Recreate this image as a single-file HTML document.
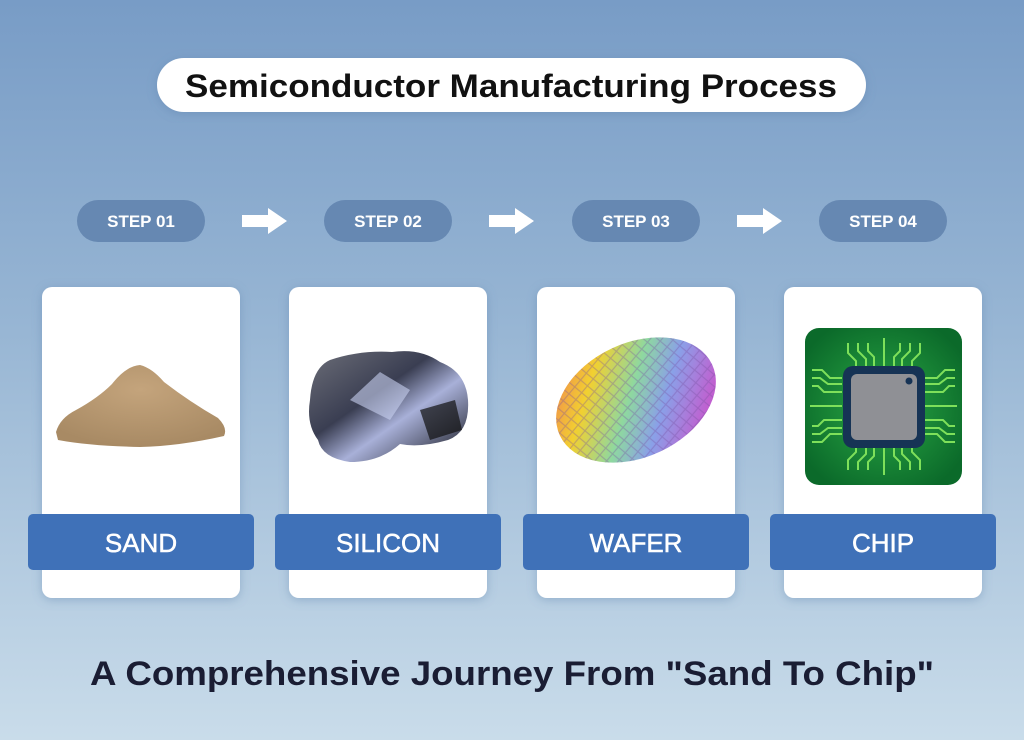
<!DOCTYPE html>
<html><head><meta charset="utf-8"><style>
html,body{margin:0;padding:0;width:1024px;height:740px;overflow:hidden;}
body{font-family:"Liberation Sans",sans-serif;}
</style></head><body>
<svg width="1024" height="740" viewBox="0 0 1024 740" xmlns="http://www.w3.org/2000/svg" font-family="Liberation Sans, sans-serif">
<defs>
<linearGradient id="bg" x1="0" y1="0" x2="0" y2="1">
<stop offset="0" stop-color="#789cc6"/><stop offset="0.45" stop-color="#98b6d4"/><stop offset="1" stop-color="#c9dcea"/>
</linearGradient>
<linearGradient id="waf" x1="0" y1="0" x2="1" y2="0.6">
<stop offset="0" stop-color="#f06a5a"/><stop offset="0.3" stop-color="#f2d030"/><stop offset="0.55" stop-color="#8ed8a0"/><stop offset="0.75" stop-color="#8aa0e8"/><stop offset="1" stop-color="#c060d0"/>
</linearGradient>
<pattern id="grid" width="9" height="9" patternUnits="userSpaceOnUse" patternTransform="rotate(-25)">
<rect width="9" height="9" fill="none" stroke="rgba(120,80,160,0.35)" stroke-width="1.2"/>
</pattern>
<radialGradient id="grn" cx="0.5" cy="0.5" r="0.6"><stop offset="0" stop-color="#2aa845"/><stop offset="1" stop-color="#0b6a2a"/></radialGradient>
<radialGradient id="sand" cx="0.5" cy="0.3" r="0.7"><stop offset="0" stop-color="#c4a47c"/><stop offset="1" stop-color="#a88a64"/></radialGradient>
<linearGradient id="rock" x1="0" y1="0" x2="1" y2="1"><stop offset="0" stop-color="#6c6e78"/><stop offset="0.4" stop-color="#3a3e52"/><stop offset="0.6" stop-color="#a8b0d8"/><stop offset="1" stop-color="#111218"/></linearGradient>
<filter id="sh" x="-20%" y="-20%" width="140%" height="140%"><feDropShadow dx="0" dy="2" stdDeviation="5" flood-color="#5a7ea8" flood-opacity="0.4"/></filter>
</defs>
<rect width="1024" height="740" fill="url(#bg)"/>
<rect x="157" y="58" width="709" height="54" rx="27" fill="#fff" filter="url(#sh)"/>
<text x="511" y="97" text-anchor="middle" font-size="32" font-weight="bold" fill="#111" textLength="652" lengthAdjust="spacingAndGlyphs">Semiconductor Manufacturing Process</text>

<g font-size="17" font-weight="bold" fill="#fff" text-anchor="middle">
<rect x="77" y="200" width="128" height="42" rx="21" fill="#6688b2"/><text x="141" y="227">STEP 01</text>
<rect x="324" y="200" width="128" height="42" rx="21" fill="#6688b2"/><text x="388" y="227">STEP 02</text>
<rect x="572" y="200" width="128" height="42" rx="21" fill="#6688b2"/><text x="636" y="227">STEP 03</text>
<rect x="819" y="200" width="128" height="42" rx="21" fill="#6688b2"/><text x="883" y="227">STEP 04</text>
</g>
<g fill="#fff">
<path d="M242 215h26v-7l19 13-19 13v-7h-26z"/>
<path d="M489 215h26v-7l19 13-19 13v-7h-26z"/>
<path d="M737 215h26v-7l19 13-19 13v-7h-26z"/>
</g>

<g fill="#fff" filter="url(#sh)">
<rect x="42" y="287" width="198" height="311" rx="10"/>
<rect x="289" y="287" width="198" height="311" rx="10"/>
<rect x="537" y="287" width="198" height="311" rx="10"/>
<rect x="784" y="287" width="198" height="311" rx="10"/>
</g>

<!-- sand -->
<path d="M56 432 Q60 418 76 410 Q98 398 112 384 Q126 366 140 365 Q152 368 164 382 Q190 402 218 418 Q228 428 224 436 Q180 446 140 447 Q90 446 58 440 Z" fill="url(#sand)"/>
<!-- silicon -->
<path d="M310 400 Q312 368 330 360 Q360 350 392 352 Q420 348 440 362 Q466 372 468 400 Q470 432 448 440 Q420 448 400 444 Q380 462 350 462 Q322 458 318 440 Q306 424 310 400Z" fill="url(#rock)"/>
<path d="M350 400 L380 372 L410 390 L390 420Z" fill="#c8d0f0" opacity="0.6"/>
<path d="M420 410 L455 400 L462 430 L430 440Z" fill="#111" opacity="0.7"/>
<!-- wafer -->
<g transform="rotate(-25 636 400)">
<ellipse cx="636" cy="400" rx="84" ry="57" fill="url(#waf)"/>
<ellipse cx="636" cy="400" rx="84" ry="57" fill="url(#grid)"/>
</g>
<!-- chip -->
<rect x="805" y="328" width="157" height="157" rx="14" fill="url(#grn)"/>
<g stroke="#7ee05a" stroke-width="2" fill="none">
<path d="M848 343v10l8 8v12M858 343v8l8 8v14M868 343v8l6 6v16M884 338v35M900 343v8l-6 6v16M910 343v8l-8 8v14M920 343v10l-8 8v12"/>
<path d="M848 470v-10l8-8v-12M858 470v-8l8-8v-14M868 470v-8l6-6v-16M884 475v-35M900 470v-8l-6-6v-16M910 470v-8l-8-8v-14M920 470v-10l-8-8v-12"/>
<path d="M812 370h10l8 8h12M812 378h8l8 6h14M812 386h6l6 6h18M810 406h32M812 426h6l6-6h18M812 434h8l8-6h14M812 442h10l8-8h12"/>
<path d="M955 370h-10l-8 8h-12M955 378h-8l-8 6h-14M955 386h-6l-6 6h-18M957 406h-32M955 426h-6l-6-6h-18M955 434h-8l-8-6h-14M955 442h-10l-8-8h-12"/>
</g>
<rect x="843" y="366" width="82" height="82" rx="10" fill="#163355"/>
<rect x="851" y="374" width="66" height="66" rx="6" fill="#8f9095"/>
<circle cx="909" cy="381" r="3.5" fill="#163355"/>

<g fill="#3f71b8">
<rect x="28" y="514" width="226" height="56" rx="5"/>
<rect x="275" y="514" width="226" height="56" rx="5"/>
<rect x="523" y="514" width="226" height="56" rx="5"/>
<rect x="770" y="514" width="226" height="56" rx="5"/>
</g>
<g font-size="26" fill="#fff" text-anchor="middle" stroke="#fff" stroke-width="0.5">
<text x="141" y="552">SAND</text>
<text x="388" y="552">SILICON</text>
<text x="636" y="552">WAFER</text>
<text x="883" y="552">CHIP</text>
</g>

<text x="512" y="685" text-anchor="middle" font-size="34" font-weight="bold" fill="#1a1d33" textLength="844" lengthAdjust="spacingAndGlyphs">A Comprehensive Journey From "Sand To Chip"</text>
</svg>
</body></html>
